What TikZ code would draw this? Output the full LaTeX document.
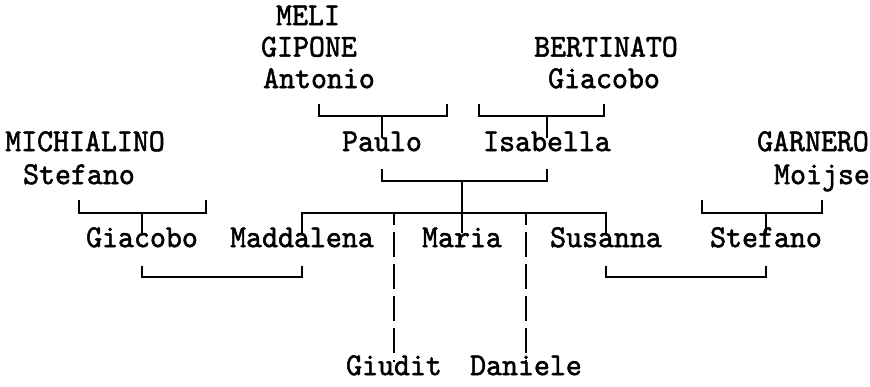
\documentclass[tikz,border=0pt]{standalone}
\usepackage{fontspec}
\setmonofont{lmmono10-regular.otf}[FakeStretch=0.95,FakeBold=1.6]
\usepackage{tikz}
\usetikzlibrary{positioning}

\begin{document}
\begin{tikzpicture}[
    x=1pt,y=-1pt,
    person/.style={font=\ttfamily\fontsize{32}{36}\selectfont,inner sep=0pt,
      text height=0.62em,text depth=0pt},
    link/.style={line width=1.6pt,draw=black},
    descent/.style={link,dash pattern=on 25pt off 7pt,dash phase=13pt}
  ]
    \useasboundingbox (0,0) rectangle (870,386);

    % grandparents
    \node[person] (meli) at (308,22) {MELI};
    \node[person] (gipone) at (309,53.5) {GIPONE};
    \node[person] (antonio) at (319,85) {Antonio};
    \node[person] (bertinato) at (606,53.5) {BERTINATO};
    \node[person] (giacoboB) at (604,85) {Giacobo};

    % parents and in-laws
    \node[person] (paulo) at (382,148) {Paulo};
    \node[person] (isabella) at (547,148) {Isabella};
    \node[person] (michialino) at (85,148) {MICHIALINO};
    \node[person] (stefanoM) at (79,181) {Stefano};
    \node[person] (garnero) at (813,148) {GARNERO};
    \node[person] (moijse) at (822,181) {Moijse};

    % children
    \node[person] (giacobo) at (142,244) {Giacobo};
    \node[person] (maddalena) at (302,244) {Maddalena};
    \node[person] (maria) at (462,244) {Maria};
    \node[person] (susanna) at (606,244) {Susanna};
    \node[person] (stefano) at (766,244) {Stefano};
    \node[person] (giudit) at (394,372) {Giudit};
    \node[person] (daniele) at (526,372) {Daniele};

    % unnamed spouses and line levels
    \coordinate (antW) at (447,116);
    \coordinate (bertW) at (479,116);
    \coordinate (pi) at (0,181);
    \coordinate (kids) at (0,213);
    \coordinate (michW) at (206,213);
    \coordinate (garW) at (702,213);
    \coordinate (wed) at (0,277);

    \draw[link] (antonio |- antW) ++(0,-12) -- (antonio |- antW) -- (antW) -- ([yshift=12pt]antW);
    \draw[link] (paulo |- antW) -- ([yshift=7pt]paulo.north);
    \draw[link] ([yshift=12pt]bertW) -- (bertW) -| ([yshift=12pt]giacoboB |- bertW);
    \draw[link] (isabella |- bertW) -- ([yshift=7pt]isabella.north);

    \draw[link] ([yshift=12pt]paulo |- pi) -- (paulo |- pi) -- (isabella |- pi) -- ([yshift=12pt]isabella |- pi);
    \draw[link] (maria |- pi) -- ([yshift=8pt]maria.north);

    \draw[link] ([yshift=13pt]stefanoM |- michW) -- (stefanoM |- michW) -- (michW) -- ([yshift=13pt]michW);
    \draw[link] (giacobo |- michW) -- ([yshift=8pt]giacobo.north);
    \draw[link] ([yshift=13pt]garW) -- (garW) -- (moijse |- garW) -- ([yshift=13pt]moijse |- garW);
    \draw[link] (stefano |- garW) -- ([yshift=8pt]stefano.north);

    \draw[link] ([yshift=8pt]maddalena.north) |- (susanna |- kids) -- ([yshift=8pt]susanna.north);
    \draw[descent] (giudit |- kids) -- ([yshift=7pt]giudit.north);
    \draw[descent] (daniele |- kids) -- ([yshift=7pt]daniele.north);

    \draw[link] ([yshift=11pt]giacobo |- wed) -- (giacobo |- wed) -- (maddalena |- wed) -- ([yshift=11pt]maddalena |- wed);
    \draw[link] ([yshift=11pt]susanna |- wed) -- (susanna |- wed) -- (stefano |- wed) -- ([yshift=11pt]stefano |- wed);
  \end{tikzpicture}
\end{document}
